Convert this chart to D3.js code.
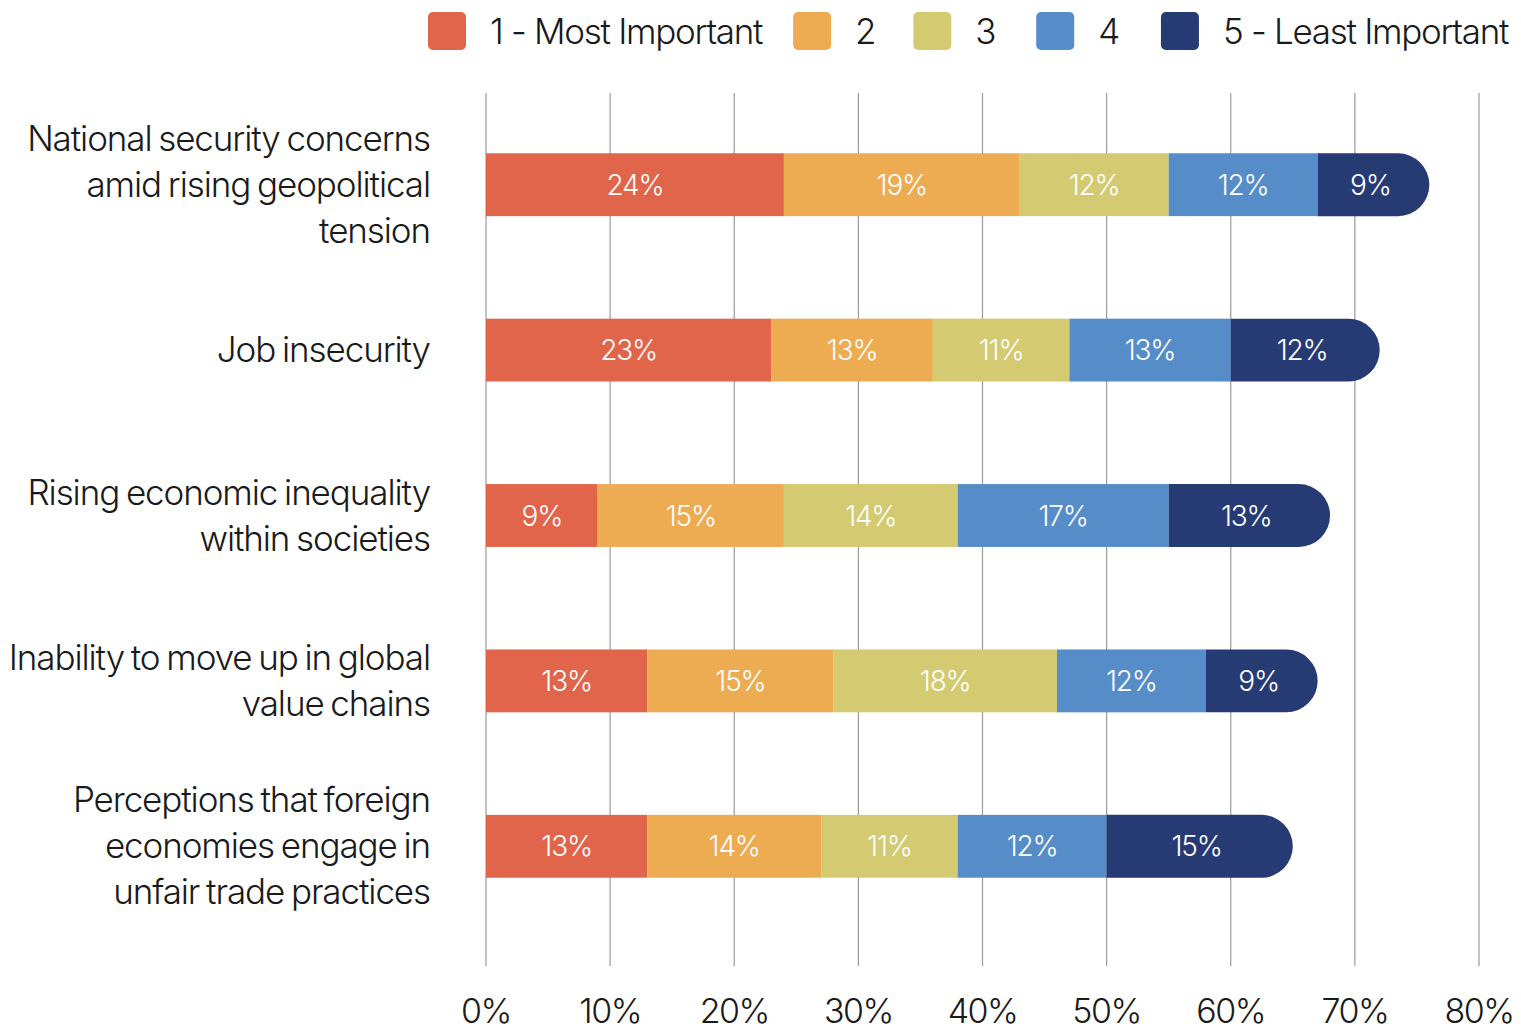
<!DOCTYPE html>
<html>
<head>
<meta charset="utf-8">
<script src="https://cdn.jsdelivr.net/npm/d3@7"></script>
<style>
  body { margin: 0; background: #fff; }
  text { font-family: Inter, "Liberation Sans", sans-serif; font-weight: 300; }
</style>
</head>
<body>
<script>
var categories = [
  ["National security concerns", "amid rising geopolitical", "tension"],
  ["Job insecurity"],
  ["Rising economic inequality", "within societies"],
  ["Inability to move up in global", "value chains"],
  ["Perceptions that foreign", "economies engage in", "unfair trade practices"]
];
var seriesNames = ["1 - Most Important", "2", "3", "4", "5 - Least Important"];
var seriesColors = ["#e0654a", "#edab52", "#d3ca72", "#568cc8", "#263a73"];
var values = [
  [24, 19, 12, 12, 9],
  [23, 13, 11, 13, 12],
  [9, 15, 14, 17, 13],
  [13, 15, 18, 12, 9],
  [13, 14, 11, 12, 15]
];
var ticks = [0, 10, 20, 30, 40, 50, 60, 70, 80];

var W = 1521, H = 1030;
var svg = d3.select("body").append("svg").attr("width", W).attr("height", H);

var x = d3.scaleLinear().domain([0, 80]).range([486, 1479]);
var y = d3.scaleBand().domain(d3.range(categories.length)).range([102, 929])
          .paddingInner(0.62).paddingOuter(0.31);

// gridlines
svg.append("g").selectAll("line").data(ticks).enter().append("line")
   .attr("x1", function (d) { return x(d); }).attr("x2", function (d) { return x(d); })
   .attr("y1", 93).attr("y2", 966)
   .attr("stroke", "#9a9a9a").attr("stroke-width", 1.2);

// tick labels
svg.append("g").selectAll("text").data(ticks).enter().append("text")
   .attr("x", function (d) { return x(d); }).attr("y", 1023)
   .attr("text-anchor", "middle").attr("font-size", 34).attr("letter-spacing", -1.5)
   .attr("fill", "#1a1a1a")
   .text(function (d) { return d + "%"; });

// bars
var bh = y.bandwidth();
values.forEach(function (row, i) {
  var start = 0;
  var g = svg.append("g");
  row.forEach(function (v, j) {
    var x0 = x(start), x1 = x(start + v), y0 = y(i);
    if (j === row.length - 1) {
      var r = bh / 2;
      var p = d3.path();
      p.moveTo(x0, y0);
      p.lineTo(x1 - r, y0);
      p.arc(x1 - r, y0 + r, r, -Math.PI / 2, Math.PI / 2);
      p.lineTo(x0, y0 + bh);
      p.closePath();
      g.append("path").attr("d", p.toString()).attr("fill", seriesColors[j]);
    } else {
      g.append("rect").attr("x", x0).attr("y", y0).attr("width", x1 - x0).attr("height", bh)
       .attr("fill", seriesColors[j]);
    }
    var cx = j === row.length - 1 ? (x0 + x1 - bh * 0.1) / 2 : (x0 + x1) / 2;
    g.append("text").attr("x", cx).attr("y", y0 + bh / 2 + 10)
     .attr("text-anchor", "middle").attr("font-size", 28).attr("letter-spacing", -1.2)
     .attr("fill", "#fff").text(v + "%");
    start += v;
  });
});

// category labels
var lh = 46;
categories.forEach(function (lines, i) {
  var cy = y(i) + bh / 2;
  var t = svg.append("text").attr("text-anchor", "end").attr("font-size", 35)
            .attr("letter-spacing", -1.1).attr("word-spacing", -2).attr("fill", "#1a1a1a");
  lines.forEach(function (s, k) {
    t.append("tspan").attr("x", 430)
     .attr("y", cy - (lines.length - 1) * lh / 2 + k * lh + 12).text(s);
  });
});

// legend
var leg = svg.append("g");
var lx = 428;
var gaps = [31, 38, 41, 42, 0];
seriesNames.forEach(function (name, j) {
  leg.append("rect").attr("x", lx).attr("y", 12).attr("width", 38).attr("height", 38)
     .attr("rx", 5).attr("fill", seriesColors[j]);
  var t = leg.append("text").attr("x", lx + 62).attr("y", 44).attr("font-size", 35)
     .attr("letter-spacing", -1.3).attr("fill", "#1a1a1a").text(name);
  lx = lx + 62 + t.node().getComputedTextLength() + gaps[j];
});
</script>
</body>
</html>
